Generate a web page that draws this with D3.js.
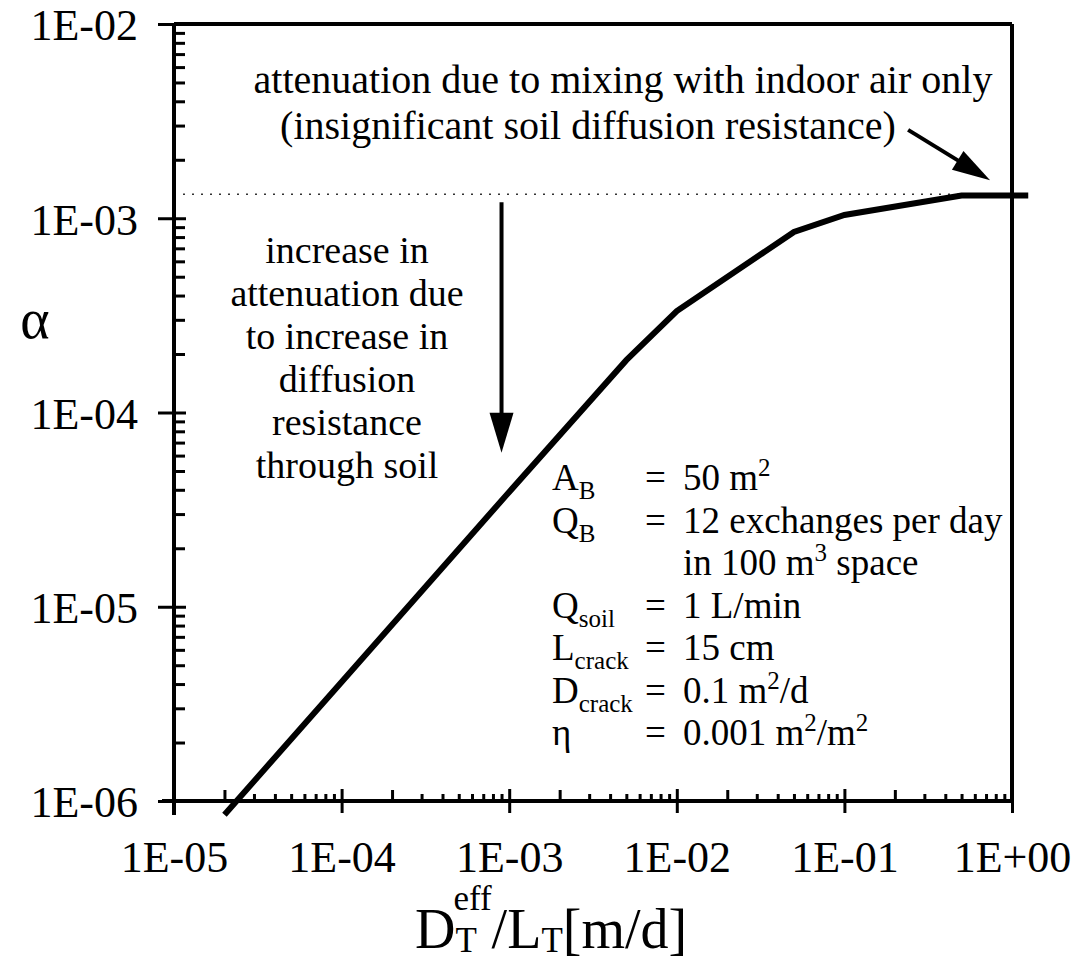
<!DOCTYPE html>
<html>
<head>
<meta charset="utf-8">
<script src="https://cdn.jsdelivr.net/npm/d3@7"></script>
<style>
  body { margin: 0; background: #fff; }
  text { font-family: "Liberation Serif", "Times New Roman", serif; fill: #000; }
</style>
</head>
<body>
<div id="chart"></div>
<script>
// curve
var dtl = [2e-5, 1e-4, 1e-3, 5e-3, 1e-2, 5e-2, 1e-1, 5e-1, 1.25];
var alpha = [8.5e-7, 4.1e-6, 3.9e-5, 1.86e-4, 3.33e-4, 8.5e-4, 1.04e-3, 1.31e-3, 1.31e-3];

// indoor-air-only limit (dotted line)
var alphaLimit = 1.33e-3;

var xDecades = [1e-5, 1e-4, 1e-3, 1e-2, 1e-1, 1];
var yDecades = [1e-6, 1e-5, 1e-4, 1e-3, 1e-2];

var topNote = ["attenuation due to mixing with indoor air only",
               "(insignificant soil diffusion resistance)"];
var leftNote = ["increase in", "attenuation due", "to increase in",
                "diffusion", "resistance", "through soil"];

var paramNames = ["A", "Q", "", "Q", "L", "D", "\u03b7"];
var paramSubs = ["B", "B", "", "soil", "crack", "crack", ""];
var paramEq = ["=", "=", "", "=", "=", "=", "="];
var paramVals = [["50 m", "2", ""], ["12 exchanges per day", "", ""], ["in 100 m", "3", " space"],
                 ["1 L/min", "", ""], ["15 cm", "", ""], ["0.1 m", "2", "/d"], ["0.001 m", "2", "/m", "2"]];

var width = 1083, height = 968;

var svg = d3.select("#chart").append("svg")
  .attr("width", width)
  .attr("height", height);

var x = d3.scaleLog().domain([1e-5, 1]).range([174, 1012]);
var y = d3.scaleLog().domain([1e-6, 1e-2]).range([801, 24]);

function fmt(d) {
  var e = Math.round(Math.log10(d));
  return "1E" + (e < 0 ? "-" : "+") + String(Math.abs(e)).padStart(2, "0");
}

function minorsOf(decades) {
  var out = [];
  decades.slice(0, -1).forEach(function(d) {
    for (var k = 2; k <= 9; k++) out.push(d * k);
  });
  return out;
}

// frame
var frame = svg.append("g").attr("stroke", "#000").attr("stroke-width", 4).attr("fill", "none");
frame.append("line").attr("x1", x(1e-5)).attr("x2", x(1e-5)).attr("y1", y(1e-2)).attr("y2", y(1e-6) + 14);
frame.append("line").attr("x1", x(1e-5) - 12).attr("x2", x(1)).attr("y1", y(1e-6)).attr("y2", y(1e-6));
frame.append("line").attr("x1", x(1e-5)).attr("x2", x(1)).attr("y1", y(1e-2)).attr("y2", y(1e-2));
frame.append("line").attr("x1", x(1)).attr("x2", x(1)).attr("y1", y(1e-2)).attr("y2", y(1e-6));

// x axis: minor ticks inside, major ticks crossing
var xMinor = minorsOf(xDecades);
var gxMinor = svg.append("g")
  .attr("transform", "translate(0," + y(1e-6) + ")")
  .call(d3.axisBottom(x).tickValues(xMinor).tickSize(-7).tickFormat(""));
gxMinor.selectAll(".tick line")
  .attr("y2", function(d) { return Math.round(d / Math.pow(10, Math.floor(Math.log10(d) + 1e-9))) === 2 ? -11 : -7; });

var gx = svg.append("g")
  .attr("transform", "translate(0," + y(1e-6) + ")")
  .call(d3.axisBottom(x).tickValues(xDecades).tickSize(12).tickPadding(28).tickFormat(fmt));
gx.selectAll(".tick line").attr("y1", -12);
gx.selectAll(".tick text").attr("font-size", 44).attr("font-family", "Liberation Serif");

// y axis
var yMinor = minorsOf(yDecades);
svg.append("g")
  .attr("transform", "translate(" + x(1e-5) + ",0)")
  .call(d3.axisLeft(y).tickValues(yMinor).tickSize(-11).tickFormat(""));

var gy = svg.append("g")
  .attr("transform", "translate(" + x(1e-5) + ",0)")
  .call(d3.axisLeft(y).tickValues(yDecades).tickSize(16).tickPadding(20).tickFormat(fmt));
gy.selectAll(".tick line").attr("x1", 12);
gy.selectAll(".tick text").attr("font-size", 44).attr("font-family", "Liberation Serif").attr("dy", "0.36em");

svg.selectAll(".domain").remove();
svg.selectAll(".tick line").attr("stroke", "#000").attr("stroke-width", 3);

// dotted limit
svg.append("line")
  .attr("x1", x(1e-5) + 9).attr("x2", x(1))
  .attr("y1", y(alphaLimit)).attr("y2", y(alphaLimit))
  .attr("stroke", "#333").attr("stroke-width", 1.5)
  .attr("stroke-dasharray", "2,7");

// curve
var line = d3.line()
  .x(function(d, i) { return x(dtl[i]); })
  .y(function(d) { return y(d); });

svg.append("path")
  .datum(alpha)
  .attr("d", line)
  .attr("fill", "none")
  .attr("stroke", "#000")
  .attr("stroke-width", 6)
  .attr("stroke-linejoin", "miter");

// arrows
function arrow(x1, y1, x2, y2, len, half) {
  var dx = x2 - x1, dy = y2 - y1, L = Math.sqrt(dx * dx + dy * dy);
  var ux = dx / L, uy = dy / L;
  var bx = x2 - ux * len, by = y2 - uy * len;
  svg.append("line")
    .attr("x1", x1).attr("y1", y1).attr("x2", bx + ux * 4).attr("y2", by + uy * 4)
    .attr("stroke", "#000").attr("stroke-width", 4);
  svg.append("path")
    .attr("d", "M" + x2 + "," + y2 +
      "L" + (bx - uy * half) + "," + (by + ux * half) +
      "L" + (bx + uy * half) + "," + (by - ux * half) + "Z")
    .attr("fill", "#000");
}
arrow(x(9e-4), y(1.21e-3), x(9e-4), y(6.2e-5), 40, 12);
arrow(x(0.24), y(2.85e-3), x(0.74), y(1.57e-3), 38, 11);

// top note
svg.append("g").selectAll("text")
  .data(topNote)
  .enter().append("text")
  .attr("x", function(d, i) { return i === 0 ? 623 : 588; })
  .attr("y", function(d, i) { return 93 + i * 46; })
  .attr("text-anchor", "middle")
  .attr("font-size", 40)
  .text(function(d) { return d; });

// left note
svg.append("g").selectAll("text")
  .data(leftNote)
  .enter().append("text")
  .attr("x", 347)
  .attr("y", function(d, i) { return 263 + i * 43; })
  .attr("text-anchor", "middle")
  .attr("font-size", 38)
  .text(function(d) { return d; });

// parameter block
var pg = svg.append("g").attr("font-size", 37);
paramNames.forEach(function(name, i) {
  var by = 490 + i * 42.5;
  if (name) {
    var t = pg.append("text").attr("x", 552).attr("y", by);
    t.append("tspan").text(name);
    if (paramSubs[i]) t.append("tspan").attr("font-size", 25).attr("dy", 9).text(paramSubs[i]);
  }
  if (paramEq[i]) pg.append("text").attr("x", 645).attr("y", by).text(paramEq[i]);
  var v = paramVals[i];
  var tv = pg.append("text").attr("x", 683).attr("y", by);
  tv.append("tspan").text(v[0]);
  if (v[1]) tv.append("tspan").attr("font-size", 25).attr("dy", -14).text(v[1]);
  if (v[2]) tv.append("tspan").attr("dy", v[1] ? 14 : 0).text(v[2]);
  if (v[3]) tv.append("tspan").attr("font-size", 25).attr("dy", -14).text(v[3]);
});

// axis titles
svg.append("text")
  .attr("x", 35).attr("y", 338)
  .attr("text-anchor", "middle")
  .attr("font-size", 56)
  .text("\u03b1");

var xt = svg.append("text").attr("x", 415).attr("y", 948).attr("font-size", 56);
xt.append("tspan").text("D");
xt.append("tspan").attr("font-size", 35).attr("dy", 4).text("T");
xt.append("tspan").attr("font-size", 35).attr("dx", -21).attr("dy", -42).text("eff");
xt.append("tspan").attr("dy", 38).text("/L");
xt.append("tspan").attr("font-size", 35).attr("dy", 4).text("T");
xt.append("tspan").attr("dy", -4).text("[m/d]");
</script>
</body>
</html>
